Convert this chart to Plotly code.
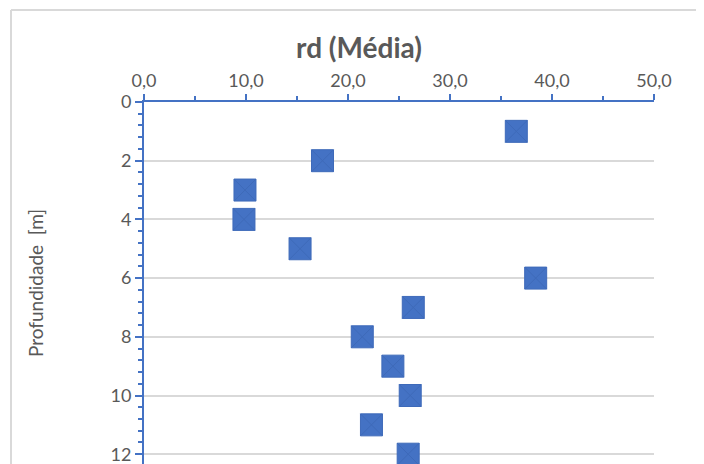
import plotly.graph_objects as go

# Data
depth_m = [1, 2, 3, 4, 5, 6, 7, 8, 9, 10, 11, 12]
rd_media = [36.5, 17.5, 9.9, 9.8, 15.3, 38.4, 26.4, 21.4, 24.4, 26.1, 22.3, 25.9]

x_tick_vals = [0, 10, 20, 30, 40, 50]
y_tick_vals = [0, 2, 4, 6, 8, 10, 12]

BLUE = "#4472C4"
GRID = "#D9D9D9"
TXT = "#595959"
FONT = "Lato, Carlito, Calibri, sans-serif"

# page body has an 8px default margin; size figure to fill the rest
OFF = 8
W, H = 704 - OFF, 464 - OFF
L, R, T, B = 144 - OFF, 50, 102 - OFF, 0

fig = go.Figure()
fig.add_trace(go.Scatter(
    x=rd_media, y=depth_m, mode="markers",
    marker=dict(symbol="square-x", size=22, color=BLUE,
                line=dict(color="#3E6AB9", width=1)),
    cliponaxis=True, showlegend=False,
))

pw = W - L - R
ph = H - T - B
# chart-area border (left and top edges visible)
bx = (11 - OFF - L) / pw
by = 1 + (T - (10 - OFF)) / ph
fig.add_shape(type="line", xref="paper", yref="paper", x0=bx, x1=bx, y0=by, y1=-0.05,
              line=dict(color=GRID, width=2))
fig.add_shape(type="line", xref="paper", yref="paper", x0=bx, x1=(W - L) / pw, y0=by, y1=by,
              line=dict(color=GRID, width=2))

fig.update_layout(
    width=W, height=H,
    margin=dict(l=L, r=R, t=T, b=B, pad=0, autoexpand=False),
    paper_bgcolor="white", plot_bgcolor="white",
    separators=",.",
    font=dict(family=FONT, size=18, color=TXT),
    title=dict(text="<b>rd (Média)</b>", x=(359 - OFF) / W, xanchor="center",
               y=1 - (48 - OFF) / H, yanchor="middle",
               font=dict(family=FONT, size=28, color=TXT)),
    xaxis=dict(side="top", range=[0, 50], tickvals=x_tick_vals, tickformat=".1f",
               automargin=False,
               showgrid=False, zeroline=False,
               showline=True, linecolor=BLUE, linewidth=2,
               ticks="outside", ticklen=6, tickwidth=2, tickcolor=BLUE,
               minor=dict(dtick=5, ticks="outside", ticklen=4, tickwidth=2, tickcolor=BLUE),
               tickfont=dict(family=FONT, size=18, color=TXT)),
    yaxis=dict(range=[(464 - 102) / 29.35, 0], tickvals=y_tick_vals,
               automargin=False, ticklabeloverflow="allow",
               showgrid=True, gridcolor=GRID, gridwidth=2, zeroline=False,
               showline=True, linecolor=BLUE, linewidth=2,
               ticks="outside", ticklen=7, tickwidth=2, tickcolor=BLUE,
               minor=dict(dtick=0.4, ticks="outside", ticklen=4, tickwidth=2,
                          tickcolor=BLUE, showgrid=False),
               tickfont=dict(family=FONT, size=18, color=TXT),
               title=dict(text="Profundidade  [m]", standoff=62,
                          font=dict(family=FONT, size=19, color=TXT))),
)

fig.write_html("out.html", config={"displayModeBar": False})
